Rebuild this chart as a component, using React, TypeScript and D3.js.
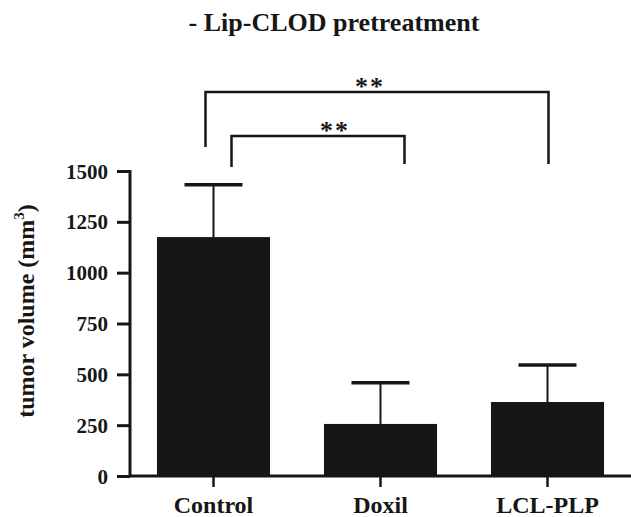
import * as d3 from 'd3'
import { useEffect, useRef } from 'react'

const WIDTH = 631
const HEIGHT = 517
const INK = '#161616'
const FONT = '"Liberation Serif", "Times New Roman", serif'

const TITLE = '- Lip-CLOD pretreatment'
const Y_LABEL = 'tumor volume (mm'
const CATEGORIES = ['Control', 'Doxil', 'LCL-PLP']
const MEANS = [1175, 256, 364]
const ERRORS = [257, 202, 182]
const Y_TICKS = [0, 250, 500, 750, 1000, 1250, 1500]

// significance brackets: from, to, top (data units), left foot, right foot, stars
const BRACKETS: [string, string, number, number, number, string][] = [
  ['Control', 'LCL-PLP', 1888, 1618, 1534, '**'],
  ['Control', 'Doxil', 1672, 1520, 1534, '**'],
]

const AXIS_LEFT = 130
const AXIS_BOTTOM = 476
const AXIS_TOP = 171

function drawChart(svgEl: SVGSVGElement) {
  const svg = d3.select(svgEl)
  svg.selectAll('*').remove()

  const x = d3
    .scaleBand<string>()
    .domain(CATEGORIES)
    .range([AXIS_LEFT, WIDTH])
    .paddingInner(0.323)
    .paddingOuter(0.1615)
  const y = d3.scaleLinear([0, 1500], [AXIS_BOTTOM, AXIS_TOP])
  const cx = (c: string) => x(c)! + x.bandwidth() / 2

  // title
  svg
    .append('text')
    .attr('x', 334)
    .attr('y', 31)
    .attr('text-anchor', 'middle')
    .attr('font-family', FONT)
    .attr('font-weight', 'bold')
    .attr('font-size', 26)
    .attr('fill', INK)
    .text(TITLE)

  // bars
  svg
    .append('g')
    .selectAll('rect')
    .data(CATEGORIES)
    .join('rect')
    .attr('x', (d) => x(d)!)
    .attr('y', (_, i) => y(MEANS[i]))
    .attr('width', x.bandwidth())
    .attr('height', (_, i) => y(0) - y(MEANS[i]))
    .attr('fill', INK)

  // error bars (upper only)
  const err = svg.append('g').attr('stroke', INK)
  CATEGORIES.forEach((c, i) => {
    const top = y(MEANS[i] + ERRORS[i])
    err
      .append('line')
      .attr('x1', cx(c))
      .attr('x2', cx(c))
      .attr('y1', y(MEANS[i]))
      .attr('y2', top)
      .attr('stroke-width', 2)
    err
      .append('line')
      .attr('x1', cx(c) - 29)
      .attr('x2', cx(c) + 29)
      .attr('y1', top)
      .attr('y2', top)
      .attr('stroke-width', 3.5)
  })

  // y axis
  const yAxis = svg
    .append('g')
    .attr('transform', `translate(${AXIS_LEFT},0)`)
    .call(
      d3
        .axisLeft(y)
        .tickValues(Y_TICKS)
        .tickFormat(d3.format('d'))
        .tickSize(13)
        .tickPadding(9)
        .tickSizeOuter(0),
    )
  yAxis
    .select('.domain')
    .attr('stroke', INK)
    .attr('stroke-width', 3)
    .attr('d', `M0,${AXIS_BOTTOM + 1}V${AXIS_TOP - 1}`)
  yAxis.selectAll('.tick line').attr('stroke', INK).attr('stroke-width', 3)
  yAxis
    .selectAll('.tick text')
    .attr('font-family', FONT)
    .attr('font-weight', 'bold')
    .attr('font-size', 21)
    .attr('fill', INK)
    .attr('dy', '0.34em')

  // x axis
  const xAxis = svg
    .append('g')
    .attr('transform', `translate(0,${AXIS_BOTTOM})`)
    .call(d3.axisBottom(x).tickSize(11).tickPadding(9).tickSizeOuter(0))
  xAxis
    .select('.domain')
    .attr('stroke', INK)
    .attr('stroke-width', 3)
    .attr('d', `M${AXIS_LEFT - 1},0H${WIDTH}`)
  xAxis.selectAll('.tick line').attr('stroke', INK).attr('stroke-width', 2.5)
  xAxis
    .selectAll('.tick text')
    .attr('font-family', FONT)
    .attr('font-weight', 'bold')
    .attr('font-size', 24)
    .attr('fill', INK)

  // y label
  const yl = svg
    .append('text')
    .attr('transform', `translate(34,311) rotate(-90)`)
    .attr('text-anchor', 'middle')
    .attr('font-family', FONT)
    .attr('font-weight', 'bold')
    .attr('font-size', 24)
    .attr('fill', INK)
  yl.append('tspan').text(Y_LABEL)
  yl.append('tspan').attr('font-size', 15).attr('dy', -10).text('3')
  yl.append('tspan').attr('dy', 10).text(')')

  // significance brackets
  const br = svg.append('g').attr('fill', 'none').attr('stroke', INK).attr('stroke-width', 2.5)
  BRACKETS.forEach(([a, b, h, la, lb, stars], i) => {
    const xa = cx(a) + (i === 0 ? -8 : 18)
    const xb = cx(b) + (i === 0 ? 1 : 24)
    br.append('path').attr('d', `M${xa},${y(la)}V${y(h)}H${xb}V${y(lb)}`)
    svg
      .append('text')
      .attr('x', (xa + xb) / 2 + (i === 0 ? -7 : 17))
      .attr('y', y(h) + 3)
      .attr('text-anchor', 'middle')
      .attr('font-family', FONT)
      .attr('font-weight', 'bold')
      .attr('font-size', 26)
      .attr('letter-spacing', 2)
      .attr('fill', INK)
      .text(stars)
  })
}

export default function App() {
  const ref = useRef<SVGSVGElement>(null)
  useEffect(() => {
    if (ref.current) drawChart(ref.current)
  }, [])
  return (
    <svg
      ref={ref}
      width={WIDTH}
      height={HEIGHT}
      style={{ position: 'absolute', left: 0, top: 0, background: '#fff' }}
    />
  )
}
